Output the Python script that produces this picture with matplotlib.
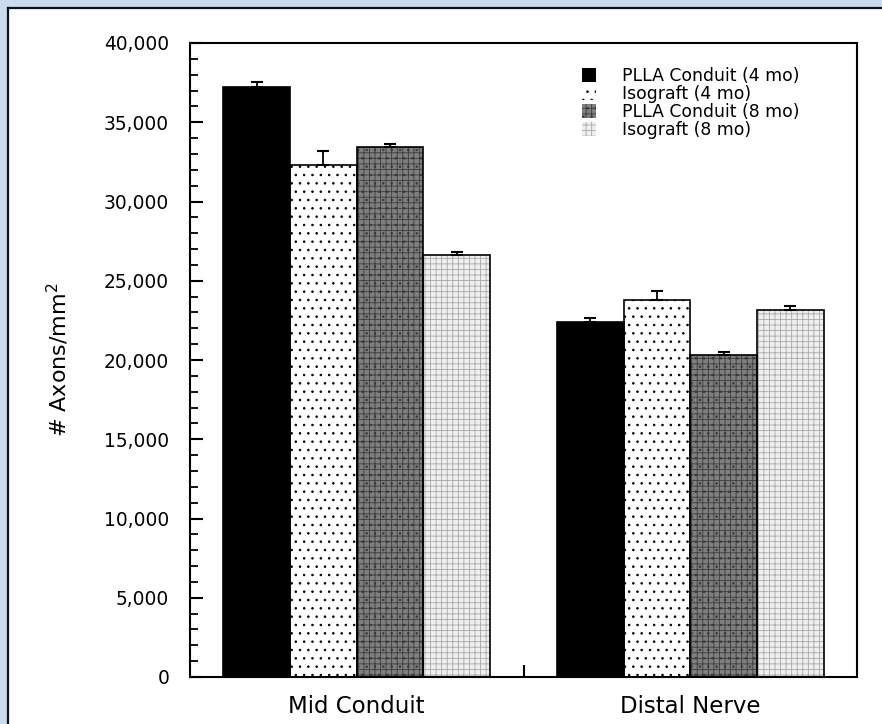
import matplotlib as mpl
import matplotlib.pyplot as plt
import numpy as np
from matplotlib.lines import Line2D
from matplotlib.patches import Patch, Rectangle
from matplotlib.ticker import MultipleLocator, StrMethodFormatter

mpl.use("Agg")
plt.rcParams["hatch.linewidth"] = 0.6

groups = ["Mid Conduit", "Distal Nerve"]
series = ["PLLA Conduit (4 mo)", "Isograft (4 mo)", "PLLA Conduit (8 mo)", "Isograft (8 mo)"]
values = [
    [37200, 22400],  # PLLA 4 mo
    [32300, 23800],  # Isograft 4 mo
    [33450, 20300],  # PLLA 8 mo
    [26650, 23150],  # Isograft 8 mo
]
errors = [
    [350, 230],
    [900, 550],
    [200, 200],
    [150, 270],
]

# fill colour, hatch, hatch colour for each series
styles = [
    ("black", "", "black"),
    ("white", "..", "black"),
    ("#7f7f7f", "+++..", "#3c3c3c"),
    ("#efefef", "+++", "#a8a8a8"),
]

fig = plt.figure(figsize=(8.82, 7.24), dpi=100, facecolor="#cadcee")
W, H = 882, 724

# white page with dark left/top border
fig.add_artist(Rectangle((8 / W, 0), 1 - 8 / W, 1 - 8 / H, transform=fig.transFigure,
                         facecolor="white", edgecolor="none", zorder=-10))
fig.add_artist(Line2D([8 / W, 8 / W], [0, 1 - 8 / H], transform=fig.transFigure, color="#111111", lw=1.6))
fig.add_artist(Line2D([8 / W, 1], [1 - 8 / H, 1 - 8 / H], transform=fig.transFigure, color="#111111", lw=1.6))

ax = fig.add_axes([190 / W, 1 - 677 / H, (857 - 190) / W, (677 - 43) / H])
ax.set_facecolor("white")

x = np.arange(len(groups))
width = 0.2
offsets = [-0.3, -0.1, 0.1, 0.3]

handles = []
for i, name in enumerate(series):
    fc, hatch, hc = styles[i]
    pos = x + offsets[i]
    ax.bar(pos, values[i], width, color=fc, hatch=hatch, edgecolor=hc, linewidth=0, zorder=2)
    ax.bar(pos, values[i], width, facecolor="none", edgecolor="black", linewidth=1.2, zorder=3)
    ax.errorbar(pos, values[i], yerr=[np.zeros(len(groups)), errors[i]], fmt="none",
                ecolor="black", elinewidth=1.3, capsize=4, capthick=1.5, zorder=4)
    handles.append(Patch(facecolor=fc, hatch=hatch, edgecolor=hc, linewidth=0, label=name))

ax.set_xlim(-0.5, 1.5)
ax.set_ylim(0, 40000)

for sp in ax.spines.values():
    sp.set_linewidth(1.5)

ax.yaxis.set_major_locator(MultipleLocator(5000))
ax.yaxis.set_minor_locator(MultipleLocator(1000))
ax.yaxis.set_major_formatter(StrMethodFormatter("{x:,.0f}"))
ax.tick_params(axis="y", which="major", direction="in", length=9, width=1.5, pad=15, labelsize=13.4)
ax.tick_params(axis="y", which="minor", direction="in", length=5.5, width=1.3)

ax.set_xticks(x)
ax.set_xticklabels(groups)
ax.set_xticks([0.5], minor=True)
ax.tick_params(axis="x", which="major", length=0, pad=13, labelsize=16.5)
ax.tick_params(axis="x", which="minor", direction="in", length=9, width=1.5)

ax.set_ylabel("# Axons/mm$^2$", fontsize=16)
ax.yaxis.set_label_coords(-0.198, 0.5)
ax.yaxis.label.set_verticalalignment("center")

ax.legend(handles=handles, loc="upper left", bbox_to_anchor=(582 / W, 1 - 67 / H),
          bbox_transform=fig.transFigure, frameon=False, fontsize=12.4, borderpad=0,
          borderaxespad=0, labelspacing=0.0, handlelength=0.8, handleheight=0.8,
          handletextpad=1.55)

fig.savefig("out.png", dpi=100, facecolor=fig.get_facecolor())
